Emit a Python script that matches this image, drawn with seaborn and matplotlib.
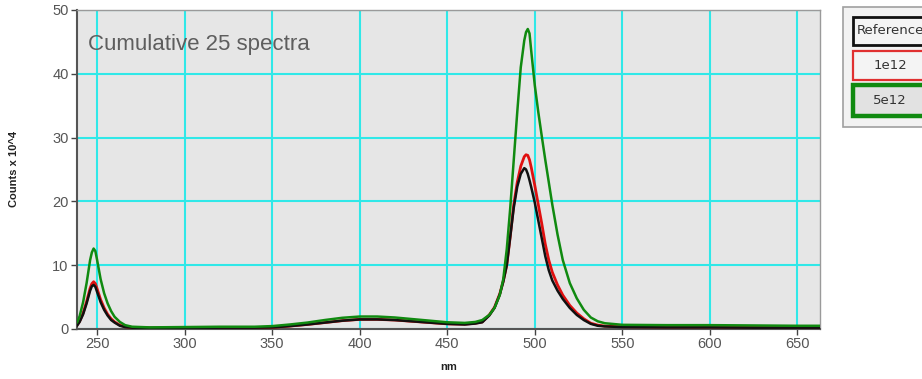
import matplotlib
matplotlib.use("Agg")
import matplotlib.pyplot as plt
from matplotlib.patches import Rectangle
import seaborn as sns

# wavelength grid (nm)
wavelength = [238.5, 240, 242, 244, 246, 247, 248, 249, 250, 252, 254, 256, 258, 260,
              263, 266, 270, 280, 300, 320, 340, 350, 360, 370, 380, 390, 400, 410,
              420, 430, 440, 450, 460, 466, 470, 474, 477, 480, 482, 484, 486, 488,
              490, 492, 494, 495, 496, 497, 498, 500, 502, 504, 506, 508, 510, 513,
              516, 520, 524, 528, 532, 536, 540, 550, 575, 600, 625, 650, 663]

# Counts x 10^4
reference = [0.5, 1.1, 2.3, 4.0, 6.0, 6.7, 6.9, 6.6, 5.8, 4.2, 3.0, 2.1, 1.4, 1.0,
             0.5, 0.3, 0.2, 0.15, 0.15, 0.2, 0.2, 0.25, 0.45, 0.7, 1.0, 1.3, 1.5, 1.5,
             1.4, 1.2, 1.0, 0.8, 0.7, 0.85, 1.05, 2.1, 3.3, 5.4, 7.4, 10.0, 14.5, 19.0,
             22.3, 24.3, 25.2, 25.0, 24.3, 23.3, 22.2, 19.8, 17.0, 14.2, 11.4, 9.2, 7.6, 6.0,
             4.7, 3.3, 2.2, 1.4, 0.8, 0.5, 0.4, 0.3, 0.25, 0.25, 0.2, 0.2, 0.2]

dose_1e12 = [0.6, 1.2, 2.5, 4.3, 6.4, 7.1, 7.4, 7.1, 6.3, 4.6, 3.3, 2.3, 1.6, 1.1,
             0.6, 0.35, 0.2, 0.15, 0.2, 0.2, 0.2, 0.25, 0.45, 0.7, 1.0, 1.3, 1.5, 1.5,
             1.4, 1.2, 1.0, 0.8, 0.75, 0.9, 1.1, 2.2, 3.4, 5.5, 7.5, 10.0, 14.5, 19.5,
             23.0, 25.5, 27.0, 27.3, 27.2, 26.5, 25.3, 22.5, 19.5, 16.5, 13.3, 10.8, 8.9, 6.9,
             5.3, 3.7, 2.5, 1.6, 0.9, 0.6, 0.45, 0.35, 0.3, 0.3, 0.25, 0.2, 0.2]

dose_5e12 = [1.0, 2.0, 4.2, 7.2, 10.8, 12.0, 12.6, 12.2, 10.8, 7.8, 5.6, 4.0, 2.8, 1.9,
             1.1, 0.6, 0.35, 0.25, 0.3, 0.35, 0.35, 0.45, 0.7, 1.0, 1.4, 1.75, 1.95, 1.95,
             1.8, 1.55, 1.3, 1.05, 0.95, 1.1, 1.4, 2.2, 3.3, 5.3, 7.8, 12.5, 19.0, 26.5,
             34.0, 41.0, 45.2, 46.5, 47.0, 46.3, 43.5, 38.2, 34.0, 30.2, 26.5, 23.0, 19.5, 14.8,
             10.8, 7.2, 4.8, 3.0, 1.8, 1.2, 0.9, 0.65, 0.6, 0.6, 0.55, 0.5, 0.5]

x_ticks = [250, 300, 350, 400, 450, 500, 550, 600, 650]
y_ticks = [0, 10, 20, 30, 40, 50]
legend_labels = ["Reference", "1e12", "5e12"]


def main():
    sns.set_theme(style="white")
    plt.rcParams["font.family"] = ["Liberation Sans", "DejaVu Sans"]

    fig = plt.figure(figsize=(9.22, 3.79), dpi=100)
    ax = fig.add_axes([0.0835, 0.132, 0.806, 0.842])
    ax.set_facecolor("#e6e6e6")

    sns.lineplot(x=wavelength, y=dose_1e12, ax=ax, color="#e01010", lw=2.0, zorder=3)
    sns.lineplot(x=wavelength, y=reference, ax=ax, color="#111111", lw=1.8, zorder=3)
    sns.lineplot(x=wavelength, y=dose_5e12, ax=ax, color="#108a10", lw=1.8, zorder=4)

    ax.set_xlim(238.5, 663)
    ax.set_ylim(0, 50)
    ax.set_xticks(x_ticks)
    ax.set_yticks(y_ticks)
    ax.grid(True, color="#30e8e8", lw=1.5, zorder=1)
    ax.set_axisbelow(True)

    ax.tick_params(axis="both", direction="out", length=4, width=1, color="#444444",
                   labelcolor="#555555", labelsize=10.5, pad=2)
    ax.tick_params(left=True, bottom=True)
    for side in ["left", "bottom"]:
        ax.spines[side].set_color("#555555")
        ax.spines[side].set_linewidth(1.5)
    for side in ["top", "right"]:
        ax.spines[side].set_color("#9a9a9a")
        ax.spines[side].set_linewidth(1.0)

    ax.set_xlabel("nm", fontsize=8, fontweight="bold", color="#222222", labelpad=8)
    ax.set_ylabel("Counts x 10^4", fontsize=8, fontweight="bold", color="#222222", labelpad=24)

    ax.text(0.0148, 0.89, "Cumulative 25 spectra", transform=ax.transAxes,
            fontsize=16, color="#5e5e5e", va="center", ha="left")

    # legend panel on the right, partly cut off by the figure edge
    W, H = 922, 379
    fig.patches.append(Rectangle((843 / W, 1 - 127 / H), 90 / W, 120 / H,
                                 transform=fig.transFigure, facecolor="#f2f2f2",
                                 edgecolor="#a0a0a0", lw=1.2))
    boxes = [(17, 45, "#111111", 2.0, "#f4f4f4"),
             (51, 80, "#e03030", 1.6, "#f4f4f4"),
             (85, 116, "#108a10", 3.2, "#e2e2e2")]
    for (top, bottom, edge, lw, face), label in zip(boxes, legend_labels):
        fig.patches.append(Rectangle((853 / W, 1 - bottom / H), 76 / W, (bottom - top) / H,
                                     transform=fig.transFigure, facecolor=face,
                                     edgecolor=edge, lw=lw))
        fig.text(890 / W, 1 - (top + bottom) / 2 / H, label, ha="center", va="center",
                 fontsize=9.5, color="#333333", family=["DejaVu Sans"])

    fig.savefig("out.png", dpi=100)
    plt.close(fig)


if __name__ == "__main__":
    main()
